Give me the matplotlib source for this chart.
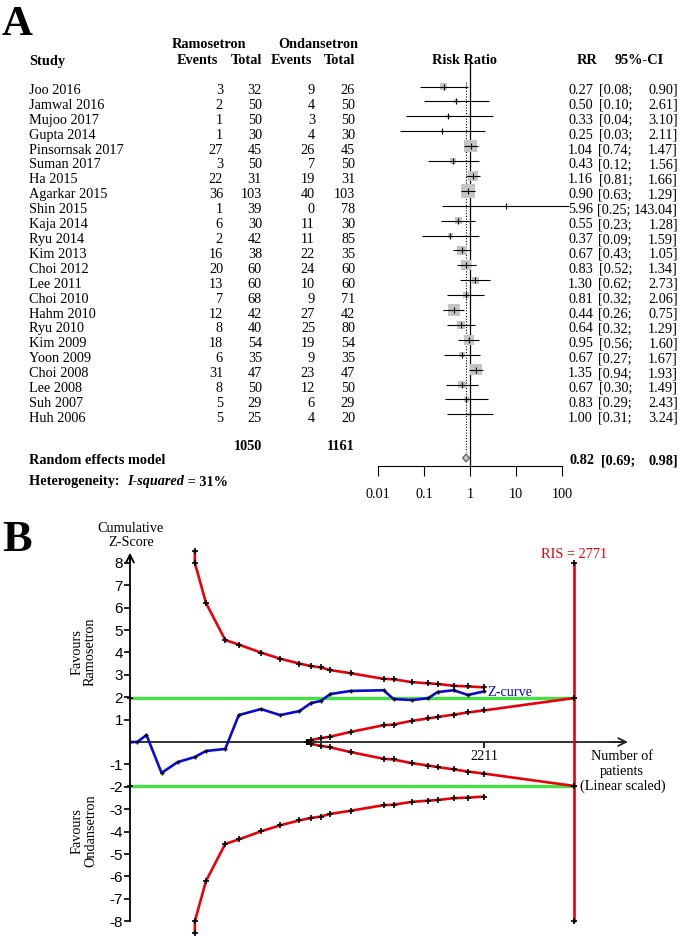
import numpy as np
import matplotlib
matplotlib.use('Agg')
import matplotlib.pyplot as plt
from matplotlib.patches import Polygon
from matplotlib.ticker import NullLocator

# ---------------- data : panel A (forest plot) ----------------
studies = ["Joo 2016", "Jamwal 2016", "Mujoo 2017", "Gupta 2014", "Pinsornsak 2017",
           "Suman 2017", "Ha 2015", "Agarkar 2015", "Shin 2015", "Kaja 2014", "Ryu 2014",
           "Kim 2013", "Choi 2012", "Lee 2011", "Choi 2010", "Hahm 2010", "Ryu 2010",
           "Kim 2009", "Yoon 2009", "Choi 2008", "Lee 2008", "Suh 2007", "Huh 2006"]
ev_ramo = [3, 2, 1, 1, 27, 3, 22, 36, 1, 6, 2, 16, 20, 13, 7, 12, 8, 18, 6, 31, 8, 5, 5]
tot_ramo = [32, 50, 50, 30, 45, 50, 31, 103, 39, 30, 42, 38, 60, 60, 68, 42, 40, 54, 35, 47, 50, 29, 25]
ev_onda = [9, 4, 3, 4, 26, 7, 19, 40, 0, 11, 11, 22, 24, 10, 9, 27, 25, 19, 9, 23, 12, 6, 4]
tot_onda = [26, 50, 50, 30, 45, 50, 31, 103, 78, 30, 85, 35, 60, 60, 71, 42, 80, 54, 35, 47, 50, 29, 20]
rr = [0.27, 0.50, 0.33, 0.25, 1.04, 0.43, 1.16, 0.90, 5.96, 0.55, 0.37, 0.67, 0.83, 1.30,
      0.81, 0.44, 0.64, 0.95, 0.67, 1.35, 0.67, 0.83, 1.00]
ci_low = [0.08, 0.10, 0.04, 0.03, 0.74, 0.12, 0.81, 0.63, 0.25, 0.23, 0.09, 0.43, 0.52, 0.62,
          0.32, 0.26, 0.32, 0.56, 0.27, 0.94, 0.30, 0.29, 0.31]
ci_high = [0.90, 2.61, 3.10, 2.11, 1.47, 1.56, 1.66, 1.29, 143.04, 1.28, 1.59, 1.05, 1.34, 2.73,
           2.06, 0.75, 1.29, 1.60, 1.67, 1.93, 1.49, 2.43, 3.24]
weight_pct = [3.1, 1.0, 0.8, 0.6, 10.0, 2.6, 6.3, 11.4, 0.2, 3.1, 1.6, 5.6, 6.3, 3.1,
              2.3, 9.0, 4.0, 6.3, 1.6, 7.6, 3.1, 1.3, 0.8]
total_ramo = 1050
total_onda = 1161
pooled_rr, pooled_lo, pooled_hi = 0.82, 0.69, 0.98
i_squared = 31
rr_ticks = [0.01, 0.1, 1, 10, 100]

# ---------------- data : panel B (trial sequential analysis) ----------------
cum_patients = [0, 45, 103, 197, 297, 405, 475, 595, 679, 818, 938, 1058, 1131, 1191, 1251,
                1378, 1584, 1646, 1763, 1863, 1921, 2021, 2111, 2211]
z_curve = [0, 0, 0.31, -1.38, -0.90, -0.67, -0.40, -0.31, 1.20, 1.47, 1.20, 1.38, 1.74, 1.83,
           2.14, 2.28, 2.31, 1.92, 1.87, 1.96, 2.23, 2.31, 2.10, 2.26]
bound_patients = [405, 405, 475, 595, 679, 818, 938, 1058, 1131, 1191, 1251, 1378, 1584, 1646,
                  1763, 1863, 1921, 2021, 2111, 2211]
bound_z = [8.53, 8.0, 6.2, 4.55, 4.35, 3.99, 3.72, 3.50, 3.39, 3.33, 3.21, 3.07, 2.82, 2.80,
           2.67, 2.62, 2.59, 2.51, 2.48, 2.44]
fut_patients = [1104, 1131, 1191, 1251, 1378, 1584, 1646, 1763, 1863, 1921, 2021, 2111, 2211, 2771]
fut_z = [0.0, 0.09, 0.17, 0.24, 0.45, 0.75, 0.78, 0.95, 1.05, 1.12, 1.22, 1.32, 1.41, 1.96]
ris = 2771
conv_z = 1.96
z_ticks = [-8, -7, -6, -5, -4, -3, -2, -1, 1, 2, 3, 4, 5, 6, 7, 8]

# ---------------- layout ----------------
W, H = 680, 936
SERIF = 'Liberation Serif'
NARROW = ['Liberation Sans Narrow', 'Liberation Sans']
plt.rcParams['font.family'] = [SERIF, 'DejaVu Serif']
FS = 10.3

fig = plt.figure(figsize=(W / 100, H / 100), dpi=100)
bg = fig.add_axes([0, 0, 1, 1])
bg.set_xlim(0, W)
bg.set_ylim(H, 0)
bg.axis('off')
fig.canvas.draw()
rend = fig.canvas.get_renderer()
PXSCALE = W / fig.bbox.width

def txt(x, y, s, ha='left', bold=False, va='center', **kw):
    return bg.text(x, y, s, ha=ha, va=va, fontsize=kw.pop('fontsize', FS),
                   fontweight='bold' if bold else 'normal', **kw)

def width_px(t):
    return t.get_window_extent(rend).width * PXSCALE

# panel letters
txt(2, 35, 'A', bold=True, fontsize=31, va='baseline')
txt(2, 551, 'B', bold=True, fontsize=32, va='baseline')

# headers
txt(209, 45, 'Ramosetron', ha='center', bold=True)
txt(318, 45, 'Ondansetron', ha='center', bold=True)
txt(29, 61, 'Study', bold=True)
txt(218, 61, 'Events', ha='right', bold=True)
txt(262, 61, 'Total', ha='right', bold=True)
txt(312, 61, 'Events', ha='right', bold=True)
txt(355, 61, 'Total', ha='right', bold=True)
txt(464, 61, 'Risk Ratio', ha='center', bold=True)
txt(597, 61, 'RR', ha='right', bold=True)
txt(639, 61, '95%-CI', ha='center', bold=True)

ROW0, STEP = 90.5, 14.9
row_y = [ROW0 + i * STEP for i in range(len(studies))]
for i, name in enumerate(studies):
    y = row_y[i]
    txt(29, y, name)
    txt(223, y, str(ev_ramo[i]), ha='right')
    txt(262, y, str(tot_ramo[i]), ha='right')
    txt(315, y, str(ev_onda[i]), ha='right')
    txt(355, y, str(tot_onda[i]), ha='right')
    txt(593, y, f'{rr[i]:.2f}', ha='right')
    up = txt(678, y, f'{ci_high[i]:.2f}]', ha='right')
    lo_right = min(632, 678 - width_px(up) - 4)
    txt(lo_right, y, f'[{ci_low[i]:.2f};', ha='right')

txt(262, 446, str(total_ramo), ha='right', bold=True)
txt(355, 446, str(total_onda), ha='right', bold=True)
txt(29, 461, 'Random effects model', bold=True)
txt(595, 461, f'{pooled_rr:.2f}', ha='right', bold=True)
txt(635, 461, f'[{pooled_lo:.2f};', ha='right', bold=True)
txt(678, 461, f'{pooled_hi:.2f}]', ha='right', bold=True)

# heterogeneity line composed of pieces
x = 29
for piece, style in [('Heterogeneity:  ', 'normal'), ('I-squared', 'italic'), (f' = {i_squared}%', 'normal')]:
    t = bg.text(x, 482, piece, ha='left', va='center', fontsize=FS, fontweight='bold', fontstyle=style)
    x += width_px(t)

# forest axes
ONE_PX, DEC = 470, 46
FL, FR, FT, FB = 372, 572, 50, 466
axf = fig.add_axes([FL / W, 1 - FB / H, (FR - FL) / W, (FB - FT) / H])
axf.patch.set_alpha(0)
axf.set_xscale('log')
axf.set_xlim(10 ** ((FL - ONE_PX) / DEC), 10 ** ((FR - ONE_PX) / DEC))
axf.set_ylim(FB, FT)
for s in ['top', 'right', 'left']:
    axf.spines[s].set_visible(False)
axf.spines['bottom'].set_bounds(rr_ticks[0], rr_ticks[-1])
axf.spines['bottom'].set_linewidth(0.8)
axf.set_xticks(rr_ticks)
axf.set_xticklabels([f'{t:g}' for t in rr_ticks])
axf.xaxis.set_minor_locator(NullLocator())
axf.set_yticks([])
axf.tick_params(axis='x', direction='out', length=7, width=0.8, pad=9, labelsize=FS)

mk_y = [y - 4 for y in row_y]
axf.vlines(1, 57, FB, color='k', lw=0.9, zorder=1)
axf.vlines(pooled_rr, 82, 452, color='k', lw=0.8, linestyles=(0, (1, 1.5)), zorder=1)
sides_pt = [4 * np.sqrt(w) * 0.72 for w in weight_pct]
axf.scatter(rr, mk_y, marker='s', s=[s ** 2 for s in sides_pt], color='#c4c4c4', lw=0, zorder=2)
axf.hlines(mk_y, ci_low, ci_high, color='k', lw=0.8, zorder=3)
axf.plot(rr, mk_y, ls='none', marker='|', color='k', ms=4, mew=0.8, zorder=4)
yd = 458
diamond = Polygon([(pooled_lo, yd), (pooled_rr, yd - 4), (pooled_hi, yd), (pooled_rr, yd + 4)],
                  closed=True, facecolor='#c8c8c8', edgecolor='#555555', lw=0.8, zorder=3)
axf.add_patch(diamond)

# ---------------- panel B ----------------
X0, Y0 = 130, 742
PX_N = (484 - 130) / 2211
PX_Z = 22.4
TT, TB = 540, 936
axt = fig.add_axes([X0 / W, 1 - TB / H, (W - X0) / W, (TB - TT) / H])
axt.patch.set_alpha(0)
axt.set_xlim(0, (W - X0) / PX_N)
axt.set_ylim((Y0 - TB) / PX_Z, (Y0 - TT) / PX_Z)
for s in ['top', 'right']:
    axt.spines[s].set_visible(False)
axt.spines['left'].set_bounds(-8, 8.2)
axt.spines['left'].set_linewidth(1.3)
axt.spines['bottom'].set_position(('data', 0))
axt.spines['bottom'].set_bounds(0, 3090)
axt.spines['bottom'].set_linewidth(1.3)
axt.spines['bottom'].set_color('#222222')
axt.set_yticks(z_ticks)
axt.set_yticklabels([f'{t}' for t in z_ticks], family=NARROW, fontsize=11)
axt.set_xticks([2211])
axt.set_xticklabels(['2211'], fontsize=FS)
axt.tick_params(axis='y', direction='out', length=4, width=1.2, pad=1)
axt.tick_params(axis='x', direction='out', length=4, width=1.2, pad=2)
axt.annotate('', xy=(0, 8.45), xytext=(0, 8.0),
             arrowprops=dict(arrowstyle='->', lw=1.3, color='k', shrinkA=0, shrinkB=0,
                             mutation_scale=14), annotation_clip=False)
axt.annotate('', xy=(3110, 0), xytext=(3000, 0),
             arrowprops=dict(arrowstyle='->', lw=1.3, color='#222222', shrinkA=0, shrinkB=0,
                             mutation_scale=14), annotation_clip=False)

RED = '#e8000b'
GREEN = '#44e044'
BLUE = '#0a0ad2'
mk = dict(marker='+', mec='k', ms=4, mew=1.2)
axt.hlines([conv_z, -conv_z], 0, ris, color=GREEN, lw=2.4, zorder=2)
axt.plot([0, 0], [conv_z, -conv_z], ls='none', clip_on=False, zorder=5, **mk)
axt.plot(bound_patients, bound_z, color=RED, lw=1.9, zorder=3, clip_on=False, **mk)
axt.plot(bound_patients, [-z for z in bound_z], color=RED, lw=1.9, zorder=3, clip_on=False, **mk)
axt.plot(fut_patients, fut_z, color=RED, lw=1.9, zorder=3, **mk)
axt.plot(fut_patients, [-z for z in fut_z], color=RED, lw=1.9, zorder=3, **mk)
axt.plot([ris] * 4, [-8, -conv_z, conv_z, 8], color=RED, lw=1.9, zorder=3, **mk)
axt.plot(cum_patients, z_curve, color=BLUE, lw=1.9, zorder=4, marker='+', mec='k', ms=3, mew=1.0)

axt.text(2230, 2.23, 'Z-curve', color=BLUE, fontsize=FS, ha='left', va='center')
axt.text(ris, 8.39, f'RIS = {ris}', color=RED, fontsize=FS, ha='center', va='center')

txt(131, 529, 'Cumulative', ha='center')
txt(131, 543, 'Z-Score', ha='center')
txt(622, 757, 'Number of', ha='center')
txt(622, 771, 'patients', ha='center')
txt(623, 786, '(Linear scaled)', ha='center')
bg.text(84, 652, 'Favours\nRamosetron', rotation=90, ha='center', va='center', fontsize=FS,
        linespacing=1.0, multialignment='center')
bg.text(84, 831, 'Favours\nOndansetron', rotation=90, ha='center', va='center', fontsize=FS,
        linespacing=1.0, multialignment='center')

fig.savefig('out.png', dpi=100)
